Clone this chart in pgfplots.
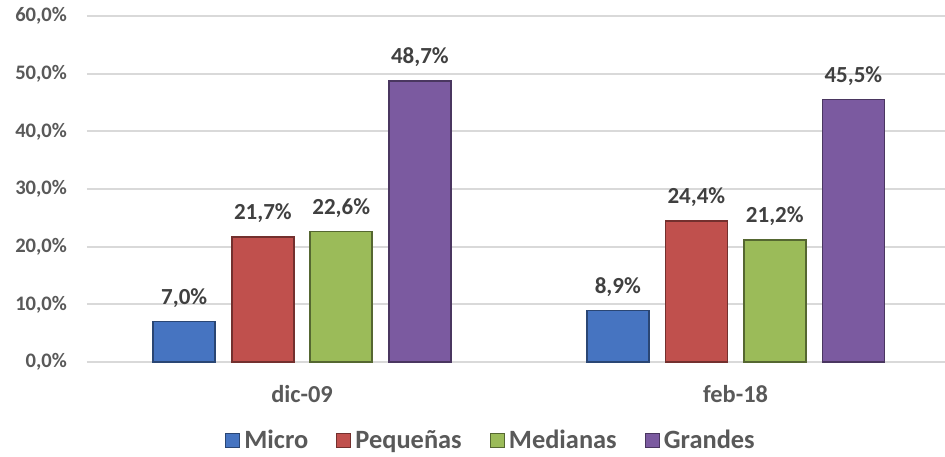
\documentclass[border=0pt]{standalone}
\usepackage{pgfplots}
\pgfplotsset{compat=1.18}
\usepackage{fontspec}
\setmainfont{Carlito}
\definecolor{cblue}{HTML}{4674C1}
\definecolor{cred}{HTML}{C0504D}
\definecolor{cgreen}{HTML}{9BBB59}
\definecolor{cpurple}{HTML}{7B5AA0}
\definecolor{tickgray}{HTML}{595959}
\definecolor{labgray}{HTML}{404040}
\definecolor{gridgray}{HTML}{D9D9D9}
\begin{document}
\begin{tikzpicture}
\begin{axis}[
  name=ax,
  ybar,
  scale only axis,
  width=429pt, height=173pt,
  xmin=-0.496, xmax=1.483,
  ymin=0, ymax=60,
  ytick={0,10,...,60},
  xtick={0,1},
  xticklabels={dic-09,feb-18},
  axis line style={draw=none},
  major tick length=0pt,
  ymajorgrids,
  grid style={gridgray, line width=0.9pt},
  /pgf/number format/assume math mode=true,
  yticklabel={\pgfmathprintnumber[fixed,fixed zerofill,precision=1,use comma]{\tick}\%},
  yticklabel style={font=\fontsize{10.3}{12}\selectfont\bfseries, text=tickgray, xshift=-6.5pt},
  xticklabel style={font=\fontsize{12.2}{14}\selectfont\bfseries, text=tickgray, yshift=-8pt},
  bar width=31pt,
  nodes near coords={\pgfmathprintnumber[fixed,fixed zerofill,precision=1,use comma]{\pgfplotspointmeta}\%},
  nodes near coords style={font=\fontsize{11.5}{13}\selectfont\bfseries, text=labgray, yshift=3.5pt},
  legend style={at={(0.472,-0.228)}, anchor=center, draw=none, fill=none,
    legend columns=4, font=\fontsize{13.2}{15}\selectfont\bfseries, text=tickgray,
    /tikz/every even column/.append style={column sep=12pt}},
  legend image code/.code={\draw[#1, line width=0.6pt] (0pt,-3.5pt) rectangle (7pt,3.5pt);},
]
\addplot[bar shift=-58.9pt, fill=cblue, draw=cblue!60!black, line width=0.8pt] coordinates {(0,7.0) (1,8.9)};
\addplot[bar shift=-19.6pt, fill=cred, draw=cred!60!black, line width=0.8pt] coordinates {(0,21.7) (1,24.4)};
\addplot[bar shift=19.6pt, fill=cgreen, draw=cgreen!55!black, line width=0.8pt] coordinates {(0,22.6) (1,21.2)};
\addplot[bar shift=58.9pt, fill=cpurple, draw=cpurple!60!black, line width=0.8pt] coordinates {(0,48.7) (1,45.5)};
\legend{Micro,Pequeñas,Medianas,Grandes}
\end{axis}
\pgfresetboundingbox
\path[use as bounding box] ([shift={(-43.5pt,-47pt)}]ax.south west) rectangle ([shift={(0pt,8pt)}]ax.north east);
\end{tikzpicture}
\end{document}
